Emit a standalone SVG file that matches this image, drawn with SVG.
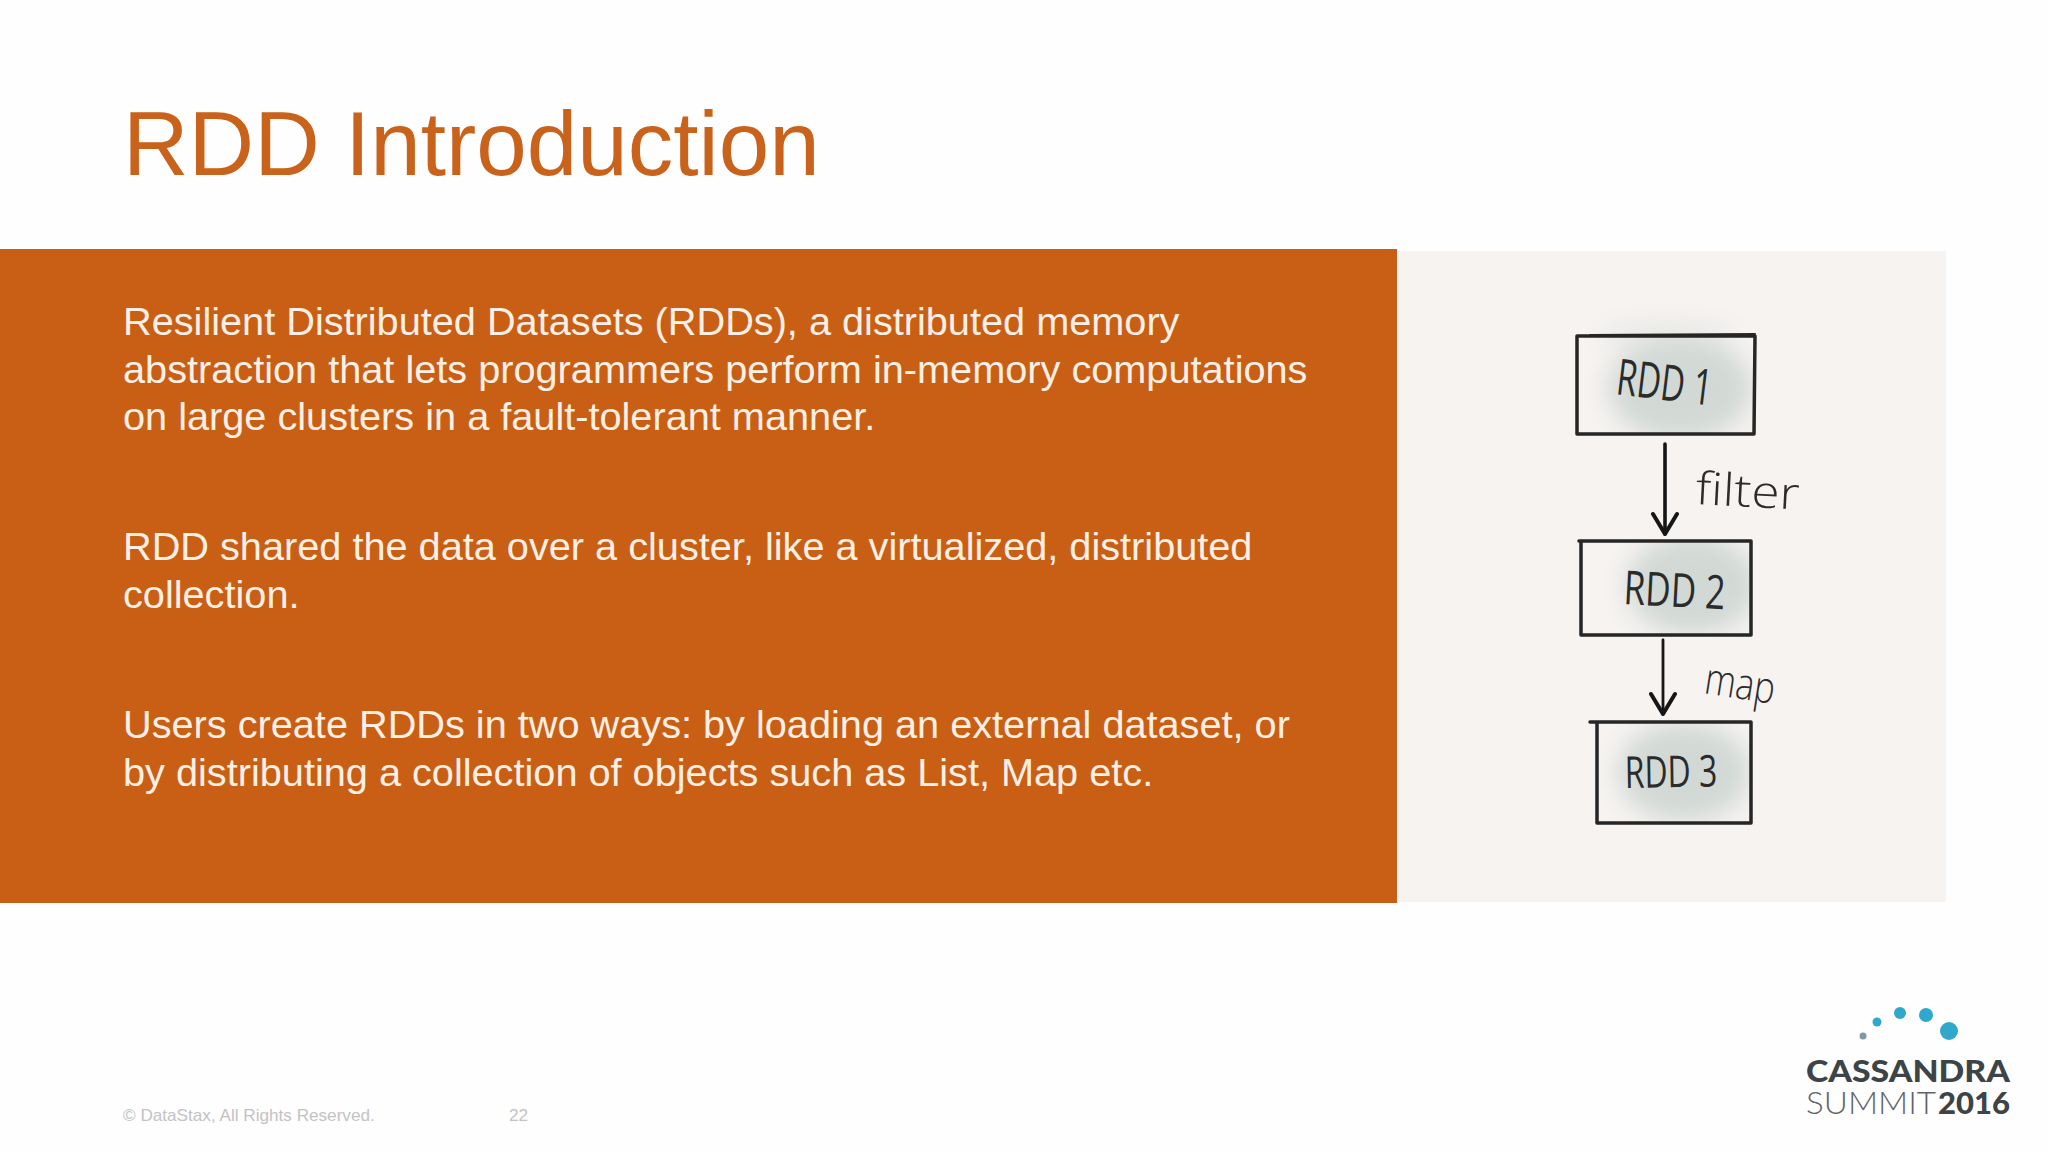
<svg xmlns="http://www.w3.org/2000/svg" width="2048" height="1152" viewBox="0 0 2048 1152">
<style>
.body{font-family:"Liberation Sans",Arial,sans-serif;font-size:39.7px;fill:#fcf0e6}
.foot{font-family:"Liberation Sans",Arial,sans-serif;font-size:17.15px;fill:#c4c2c4}
.hand{font-family:"Open Sans","DejaVu Sans",sans-serif;fill:#2b2b2b}
.box{fill:none;stroke:#262626;stroke-linejoin:round;stroke-linecap:round}
.conn{fill:none;stroke:#161616;stroke-linecap:round}
.tint{fill:#d2d9d5;filter:url(#soft)}
.dot{fill:#2fa8cb}
</style>
<defs>
<filter id="soft" x="-60%" y="-150%" width="220%" height="400%"><feGaussianBlur stdDeviation="12"/></filter>
<clipPath id="c1"><rect x="1578" y="337" width="175" height="96"/></clipPath>
<clipPath id="c2"><rect x="1581" y="543" width="168" height="91"/></clipPath>
<clipPath id="c3"><rect x="1598" y="724" width="151" height="97"/></clipPath>
<marker id="head" viewBox="0 0 26 28" refX="23" refY="14" markerWidth="26" markerHeight="28" markerUnits="userSpaceOnUse" orient="auto">
<path d="M3 2 L23 14 L3 26" fill="none" stroke="#161616" stroke-width="4" stroke-linecap="round" stroke-linejoin="round"/>
</marker>
</defs>
<rect width="2048" height="1152" fill="#fefefe"/>
<text x="123" y="175" font-family="Liberation Sans, Arial, sans-serif" font-size="90.85" fill="#c9621a">RDD Introduction</text>
<rect x="0" y="249" width="1397" height="654" fill="#c95f15"/>
<g>
<text class="body" x="123" y="335">Resilient Distributed Datasets (RDDs), a distributed memory</text>
<text class="body" x="123" y="383">abstraction that lets programmers perform in-memory computations</text>
<text class="body" x="123" y="430">on large clusters in a fault-tolerant manner.</text>
<text class="body" x="123" y="560">RDD shared the data over a cluster, like a virtualized, distributed</text>
<text class="body" x="123" y="608">collection.</text>
<text class="body" x="123" y="738">Users create RDDs in two ways: by loading an external dataset, or</text>
<text class="body" x="123" y="786">by distributing a collection of objects such as List, Map etc.</text>
</g>
<rect x="1398" y="251" width="548" height="651" fill="#f6f3f1"/>
<g id="node-rdd1">
<ellipse cx="1668" cy="336" rx="66" ry="9" fill="#dfe2df" filter="url(#soft)"/>
<g clip-path="url(#c1)"><ellipse class="tint" cx="1680" cy="388" rx="72" ry="52"/></g>
<path class="box" stroke-width="3.5" d="M1577 336 L1755 336 L1754 434 L1577 434 Z"/>
<path class="box" stroke-width="2" d="M1590 335 L1755 334"/>
<text class="hand" font-size="50" transform="translate(1615 394) rotate(7) scale(.66 1)">RDD 1</text>
</g>
<g id="node-rdd2">
<g clip-path="url(#c2)"><ellipse class="tint" cx="1692" cy="585" rx="66" ry="50"/></g>
<path class="box" stroke-width="3.5" d="M1579 541 L1751 541 L1751 635 L1581 635 L1581 542"/>
<text class="hand" font-size="47" transform="translate(1623 604) rotate(3) scale(.745 1)">RDD 2</text>
</g>
<g id="node-rdd3">
<g clip-path="url(#c3)"><ellipse class="tint" cx="1684" cy="772" rx="66" ry="50"/></g>
<path class="box" stroke-width="3.5" d="M1590 722 L1751 722 L1751 823 L1597 823 L1597 723"/>
<text class="hand" font-size="44" transform="translate(1625 788) rotate(-1) scale(.725 1)">RDD 3</text>
</g>
<g id="connectors">
<path class="conn" stroke-width="3.6" marker-end="url(#head)" d="M1665 444 L1665 534"/>
<path class="conn" stroke-width="2.8" marker-end="url(#head)" d="M1663 640 L1663 714"/>
<text class="hand" font-size="45" font-weight="300" transform="translate(1695 504) rotate(3) scale(1.14 1)">filter</text>
<text class="hand" font-size="44" font-weight="300" transform="translate(1703 693) rotate(9) scale(.8 1)">map</text>
</g>
<text class="foot" x="123" y="1121">© DataStax, All Rights Reserved.</text>
<text class="foot" x="509" y="1121">22</text>
<g id="logo">
<circle class="dot" cx="1863" cy="1036" r="3.5" style="fill:#7f97a8"/>
<circle class="dot" cx="1877" cy="1022" r="4.5"/>
<circle class="dot" cx="1900" cy="1013" r="6"/>
<circle class="dot" cx="1926" cy="1015" r="7"/>
<circle class="dot" cx="1949" cy="1031" r="9"/>
<text x="1806" y="1082" font-family="Lato, 'Open Sans', sans-serif" font-weight="900" font-size="31" fill="#3d4448" textLength="204" lengthAdjust="spacingAndGlyphs">CASSANDRA</text>
<text x="1806" y="1114" font-family="Lato, 'Open Sans', sans-serif" font-weight="300" font-size="31" fill="#5f6569" textLength="130" lengthAdjust="spacingAndGlyphs">SUMMIT</text>
<text x="1938" y="1114" font-family="Lato, 'Open Sans', sans-serif" font-weight="900" font-size="31" fill="#3d4448" textLength="72" lengthAdjust="spacingAndGlyphs">2016</text>
</g>
</svg>
